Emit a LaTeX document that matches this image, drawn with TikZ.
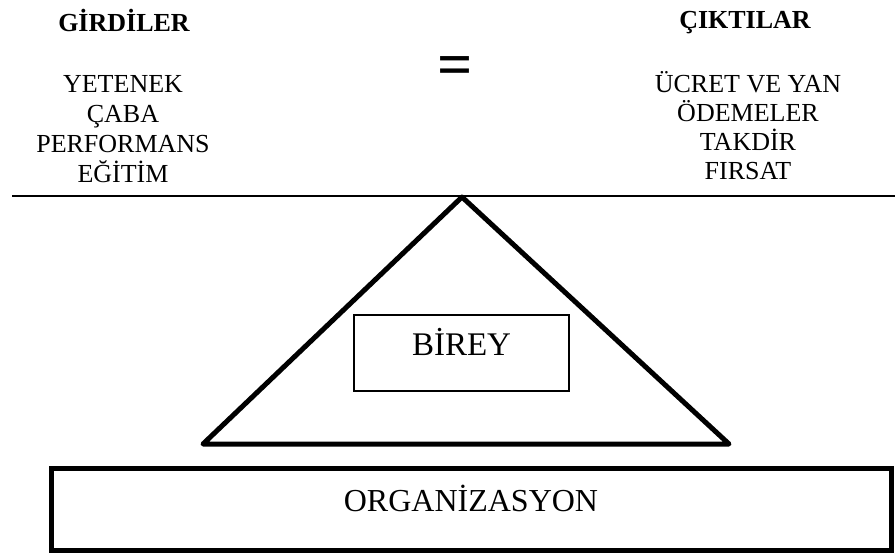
\documentclass[tikz,border=0pt]{standalone}
\usepackage{fontspec}
\setmainfont{Liberation Serif}
\usetikzlibrary{positioning}

\tikzset{
  head/.style={font=\fontsize{26}{30}\selectfont\bfseries, anchor=base},
  item/.style={font=\fontsize{26}{30}\selectfont, anchor=base},
  boxed/.style={draw, inner sep=0pt, text height=10pt, text depth=6pt},
}

\begin{document}
\begin{tikzpicture}[x=1pt, y=-1pt]
  \useasboundingbox (0,0) rectangle (895,554);
  % Headers
  \node[head] (girdi) at (124,31.7) {GİRDİLER};
  \node[head] (cikti) at (745,28.3) {ÇIKTILAR};
  \node[font=\fontsize{62}{62}\selectfont\bfseries] (eq) at (455,71) {=};
  % Inputs and outputs
  \foreach \t [count=\i] in {YETENEK, ÇABA, PERFORMANS, EĞİTİM}{
    \node[item] (in\i) at (123,{62.7+30*\i}) {\t};
  }
  \foreach \t [count=\i] in {ÜCRET VE YAN, ÖDEMELER, TAKDİR, FIRSAT}{
    \node[item] (out\i) at (748,{62.7+29.3*\i}) {\t};
  }
  % Balance beam and triangle
  \coordinate (lineL) at (12,196);
  \coordinate (lineR) at (895,196);
  \draw[line width=2pt] (lineL) -- (lineR);
  \coordinate (apex) at (462,197);
  \coordinate (baseL) at (203,444);
  \coordinate (baseR) at (729,444);
  \draw[line width=5pt, line join=round, line cap=round] (apex) -- (baseL) -- (baseR) -- cycle;
  % Boxes
  \node[boxed, line width=1.5pt, minimum width=215pt, minimum height=76pt,
        font=\fontsize{33}{33}\selectfont] (birey) at (461.5,353) {BİREY};
  \node[boxed, line width=5pt, minimum width=840pt, minimum height=82pt,
        font=\fontsize{32}{32}\selectfont] (org) at (471,509) {ORGANİZASYON};
\end{tikzpicture}
\end{document}
